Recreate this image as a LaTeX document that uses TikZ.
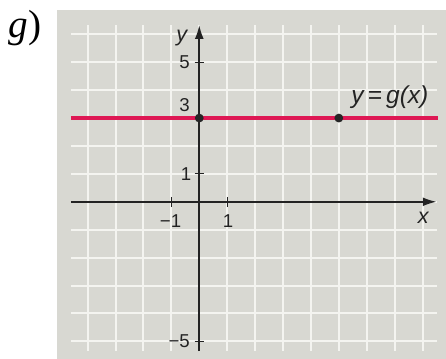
\documentclass[tikz,border=0pt]{standalone}
\usepackage{fontspec}
\setmainfont{Liberation Serif}
\setsansfont{Liberation Sans}
\usepackage{tikz}
\usetikzlibrary{arrows.meta}

\definecolor{panelgray}{RGB}{216,216,210}
\definecolor{gridwhite}{RGB}{244,244,240}
\definecolor{graphred}{RGB}{222,24,84}
\definecolor{axisgray}{RGB}{35,35,35}

\begin{document}
\begin{tikzpicture}[x=0.5cm, y=0.5cm,
    % --- 样式定义 ---
    panel/.style={fill=panelgray, draw=none},
    gridline/.style={draw=gridwhite, line width=1pt},
    axis/.style={draw=axisgray, line width=0.8pt, -{Latex[length=7pt, width=4.5pt]}},
    tickmark/.style={draw=axisgray, line width=0.6pt},
    ticklabel/.style={font=\sffamily\fontsize{9.5}{11}\selectfont, text=axisgray, inner sep=1pt},
    axislabel/.style={font=\sffamily\itshape\fontsize{11}{13}\selectfont, text=axisgray, inner sep=1pt},
    graph/.style={draw=graphred, line width=2pt},
    dot/.style={circle, fill=black!85, inner sep=0pt, minimum size=4.5pt}
]

    % 画布边界与灰色底板
    \useasboundingbox (-7.14,-5.63) rectangle (8.84,7.23);
    \fill[panel] (-5.11,-5.63) rectangle (8.84,6.87);

    % =========================================
    % 网格
    % =========================================
    \foreach \gx in {-4,...,8}
        \draw[gridline] (\gx,-5.35) -- (\gx,6.33);
    \foreach \gy in {-5,...,6}
        \draw[gridline] (-4.6,\gy) -- (8.5,\gy);

    % =========================================
    % 坐标轴
    % =========================================
    \coordinate (xl) at (-4.6,0);
    \coordinate (xr) at (8.5,0);
    \coordinate (yb) at (0,-5.35);
    \coordinate (yt) at (0,6.33);
    \draw[axis] (xl) -- (xr);
    \draw[axis] (yb) -- (yt);

    % 刻度
    \foreach \tx in {-1,1}
        \draw[tickmark] (\tx,-0.17) -- (\tx,0.17);
    \foreach \ty in {-5,1,5}
        \draw[tickmark] (-0.17,\ty) -- (0.17,\ty);

    % 刻度标签
    \node[ticklabel] (lxm1) at (-1.03,-0.69) {−1};
    \node[ticklabel] (lx1)  at (1.03,-0.69)  {1};
    \node[ticklabel] (ly5)  at (-0.53,5)     {5};
    \node[ticklabel] (ly3)  at (-0.53,3.47)  {3};
    \node[ticklabel] (ly1)  at (-0.47,1)     {1};
    \node[ticklabel] (lym5) at (-0.72,-5)    {−5};
    \node[axislabel] (lx) at (8.03,-0.57) {x};
    \node[axislabel] (ly) at (-0.63,5.87) {y};

    % =========================================
    % 常函数 y = g(x) = 3
    % =========================================
    \coordinate (gl) at (-4.6,3);
    \coordinate (gr) at (8.56,3);
    \draw[graph] (gl) -- (gr);
    \node[dot] (p0) at (0,3) {};
    \node[dot] (p5) at (5,3) {};
    \node[axislabel, font=\sffamily\itshape\fontsize{12.5}{15}\selectfont] (glabel) at (6.83,3.76) {y\,=\,g(x)};

    % 小题编号
    \node[font=\fontsize{20}{22}\selectfont, inner sep=0pt] (tag) at (-6.24,6.22) {\textit{g})};

\end{tikzpicture}
\end{document}
